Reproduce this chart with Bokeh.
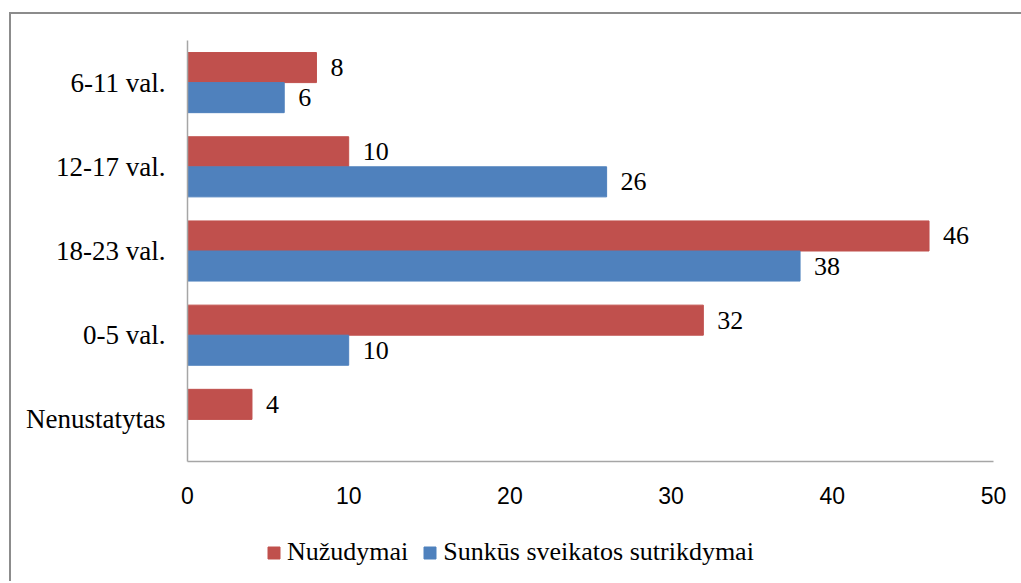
from bokeh.plotting import figure
from bokeh.layouts import column
from bokeh.models import (ColumnDataSource, FactorRange, Range1d, Legend, LegendItem,
                          FixedTicker)
from bokeh.transform import dodge
from bokeh.core.properties import value
from bokeh.embed import file_html
from bokeh.resources import INLINE

# ---- data (top-to-bottom as displayed) ----
categories = ["6-11 val.", "12-17 val.", "18-23 val.", "0-5 val.", "Nenustatytas"]
nuzudymai = [8, 10, 46, 32, 4]
sunkus = [6, 26, 38, 10, None]
series_names = ["Nužudymai", "Sunkūs sveikatos sutrikdymai"]
x_ticks = [0, 10, 20, 30, 40, 50]

RED = "#C0504D"
BLUE = "#4F81BD"
SERIF = "Liberation Serif"
SANS = "Liberation Sans"

red_src = ColumnDataSource(dict(
    cat=[c for c, v in zip(categories, nuzudymai) if v is not None],
    val=[v for v in nuzudymai if v is not None],
    lbl=[str(v) for v in nuzudymai if v is not None]))
blue_src = ColumnDataSource(dict(
    cat=[c for c, v in zip(categories, sunkus) if v is not None],
    val=[v for v in sunkus if v is not None],
    lbl=[str(v) for v in sunkus if v is not None]))

W = 1010
p = figure(width=W, height=506, output_backend="svg", toolbar_location=None,
           y_range=FactorRange(*list(reversed(categories)), range_padding=0),
           x_range=Range1d(0, 50),
           min_border_left=176, min_border_right=28, min_border_top=26, min_border_bottom=59)

bw = 0.357
off = bw / 2
r_red = p.hbar(y=dodge("cat", off, range=p.y_range), right="val", left=0, height=bw,
               source=red_src, fill_color=RED, line_color=RED)
r_blue = p.hbar(y=dodge("cat", -off, range=p.y_range), right="val", left=0, height=bw,
                source=blue_src, fill_color=BLUE, line_color=BLUE)

for src, o in ((red_src, off), (blue_src, -off)):
    p.text(x="val", y=dodge("cat", o, range=p.y_range), text="lbl", source=src,
           x_offset=14, text_baseline="middle", text_align="left",
           text_font=value(SERIF), text_font_size="26px", text_color="#000000")

p.xgrid.visible = False
p.ygrid.visible = False
p.outline_line_color = None

for ax in (p.xaxis[0], p.yaxis[0]):
    ax.axis_line_color = "#a6a6a6"
    ax.axis_line_width = 1.5
    ax.major_tick_line_color = None
    ax.minor_tick_line_color = None

p.xaxis.ticker = FixedTicker(ticks=x_ticks)
p.xaxis.major_label_text_font = SANS
p.xaxis.major_label_text_font_size = "23px"
p.xaxis.major_label_text_color = "#000000"
p.xaxis.major_label_standoff = 19

p.yaxis.major_label_text_font = SERIF
p.yaxis.major_label_text_font_size = "27px"
p.yaxis.major_label_text_color = "#000000"
p.yaxis.major_label_standoff = 16

# legend strip below the chart (swatch renderers sit outside the strip's visible range)
q = figure(width=W, height=61, output_backend="svg", toolbar_location=None,
           x_range=Range1d(0, 1), y_range=Range1d(0, 1),
           x_axis_type=None, y_axis_type=None,
           min_border_left=0, min_border_right=0, min_border_top=0, min_border_bottom=0)
q.outline_line_color = None
q.xgrid.visible = False
q.ygrid.visible = False
k_red = q.hbar(y=[-5], right=[0.5], left=0, height=0.5, fill_color=RED, line_color=RED)
k_blue = q.hbar(y=[-5], right=[0.5], left=0, height=0.5, fill_color=BLUE, line_color=BLUE)
legend = Legend(items=[LegendItem(label=series_names[0], renderers=[k_red]),
                       LegendItem(label=series_names[1], renderers=[k_blue])],
                orientation="horizontal", location=(79, 14),
                glyph_width=15, glyph_height=15, label_standoff=6, spacing=14,
                padding=0, margin=0, border_line_color=None,
                label_text_font=SERIF, label_text_font_size="26px",
                label_text_color="#000000", background_fill_alpha=0)
q.add_layout(legend, "center")

layout = column(p, q, spacing=0,
                styles={"border-left": "2px solid #8c8c8c", "border-top": "2px solid #8c8c8c",
                        "margin-left": "9px", "margin-top": "12px"})

open("out.html", "w").write(file_html(layout, INLINE))
